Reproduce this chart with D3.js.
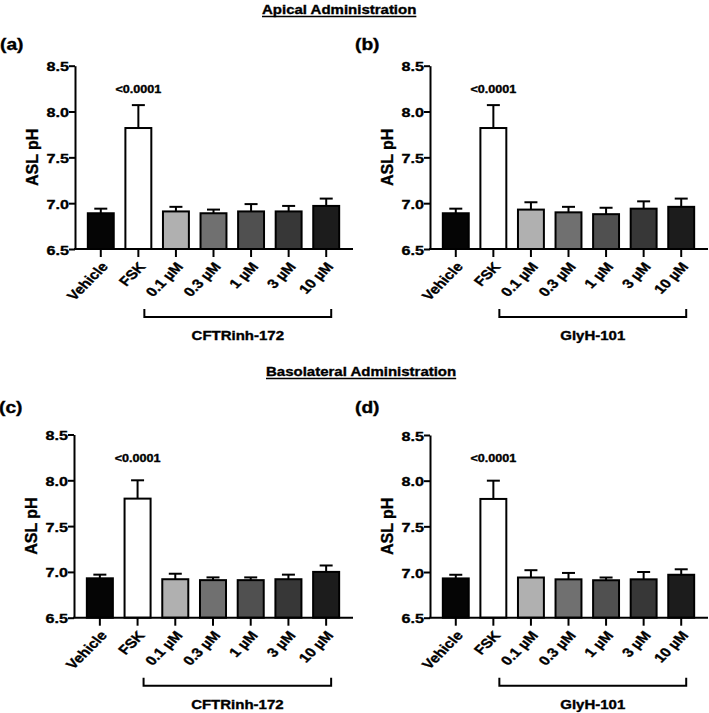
<!DOCTYPE html>
<html>
<head>
<meta charset="utf-8">
<script src="https://cdn.jsdelivr.net/npm/d3@7"></script>
<style>
  body { margin: 0; background: #fff; }
  svg { display: block; }
  text { font-family: "Liberation Sans", Arial, Helvetica, sans-serif; font-weight: bold; fill: #000; stroke: #000; stroke-width: 0.35px; }
</style>
</head>
<body>
<svg width="709" height="713"></svg>
<script>
// categories and tick values
const categories = ["Vehicle", "FSK", "0.1 µM", "0.3 µM", "1 µM", "3 µM", "10 µM"];
const yTicks = [6.5, 7.0, 7.5, 8.0, 8.5];

// ASL pH means and SEM
const meanA = [6.89, 7.82, 6.91, 6.89, 6.91, 6.91, 6.97];
const semA  = [0.05, 0.25, 0.05, 0.04, 0.08, 0.06, 0.08];
const meanB = [6.89, 7.82, 6.93, 6.90, 6.88, 6.94, 6.96];
const semB  = [0.05, 0.25, 0.08, 0.06, 0.07, 0.08, 0.09];
const meanC = [6.93, 7.80, 6.92, 6.91, 6.91, 6.92, 7.00];
const semC  = [0.04, 0.20, 0.06, 0.03, 0.03, 0.05, 0.07];
const meanD = [6.93, 7.80, 6.94, 6.92, 6.91, 6.92, 6.97];
const semD  = [0.04, 0.20, 0.08, 0.07, 0.03, 0.08, 0.06];

const pLabel = "<0.0001";
const inhibitors = ["CFTRinh-172", "GlyH-101"];
const sections = ["Apical Administration", "Basolateral Administration"];

const fills = ["#050505", "#ffffff", "#b0b0b0", "#707070", "#505050", "#373737", "#1c1c1c"];
const SX = 1.2; // the figure's text is horizontally stretched

const svg = d3.select("svg");

function stretchedText(g, x, y, str, size, anchor) {
    return g.append("text")
        .attr("transform", `translate(${x},${y}) scale(${SX},1)`)
        .attr("text-anchor", anchor || "middle")
        .style("font-size", size + "px")
        .text(str);
}

function drawPanel(cfg) {
    const g = svg.append("g");
    const y = d3.scaleLinear().domain([6.5, 8.5]).range([cfg.bottom, cfg.top]);
    const x = d3.scaleBand().domain(categories)
        .range([cfg.axisX + 7, cfg.endX - 8])
        .paddingInner(0.31).paddingOuter(0.155);
    const data = categories.map((c, i) => ({cat: c, mean: cfg.mean[i], sem: cfg.sem[i], fill: fills[i]}));

    // bars
    g.selectAll("rect.bar").data(data).enter().append("rect")
        .attr("class", "bar")
        .attr("x", d => x(d.cat))
        .attr("width", x.bandwidth())
        .attr("y", d => y(d.mean))
        .attr("height", d => y(6.5) - y(d.mean))
        .attr("fill", d => d.fill)
        .attr("stroke", "#000")
        .attr("stroke-width", 2);

    // error bars (upper only)
    const eb = g.selectAll("g.err").data(data).enter().append("g").attr("class", "err");
    eb.append("line")
        .attr("x1", d => x(d.cat) + x.bandwidth() / 2)
        .attr("x2", d => x(d.cat) + x.bandwidth() / 2)
        .attr("y1", d => y(d.mean))
        .attr("y2", d => y(d.mean + d.sem))
        .attr("stroke", "#000").attr("stroke-width", 2);
    eb.append("line")
        .attr("x1", d => x(d.cat) + x.bandwidth() / 2 - 6.5)
        .attr("x2", d => x(d.cat) + x.bandwidth() / 2 + 6.5)
        .attr("y1", d => y(d.mean + d.sem))
        .attr("y2", d => y(d.mean + d.sem))
        .attr("stroke", "#000").attr("stroke-width", 2);

    // y axis
    const yAxis = g.append("g")
        .attr("transform", `translate(${cfg.axisX},0)`)
        .call(d3.axisLeft(y).tickValues(yTicks).tickFormat(d3.format(".1f")).tickSize(6).tickSizeOuter(0));
    yAxis.select(".domain").attr("stroke-width", 2);
    yAxis.selectAll(".tick line").attr("stroke-width", 2);
    yAxis.selectAll(".tick text")
        .attr("x", null).attr("dy", null)
        .attr("transform", `translate(-6,5) scale(${SX},1)`)
        .style("font-size", "13.5px")
        .style("font-family", null);

    // x axis
    g.append("line")
        .attr("x1", cfg.axisX - 1).attr("x2", cfg.endX)
        .attr("y1", y(6.5)).attr("y2", y(6.5))
        .attr("stroke", "#000").attr("stroke-width", 2);
    const xAxis = g.append("g")
        .attr("transform", `translate(0,${y(6.5)})`)
        .call(d3.axisBottom(x).tickSize(8).tickSizeOuter(0));
    xAxis.select(".domain").remove();
    xAxis.selectAll(".tick line").attr("stroke-width", 2);
    xAxis.selectAll(".tick text")
        .attr("y", null).attr("dy", null)
        .attr("text-anchor", "end")
        .attr("transform", `translate(8,18) scale(${SX},1) rotate(-50)`)
        .style("font-size", "13px")
        .style("font-family", null);

    // y axis title
    g.append("text")
        .attr("transform", `translate(${cfg.axisX - 37},${(y(6.5) + y(8.5)) / 2}) rotate(-90)`)
        .attr("text-anchor", "middle")
        .style("font-size", "16px")
        .text("ASL pH");

    // significance label over FSK
    stretchedText(g, x("FSK") + x.bandwidth() / 2, y(8.5) + 27, pLabel, 10.5);

    // bracket under the inhibitor doses
    const bx1 = x("FSK") + x.bandwidth() / 2 + 6;
    const bx2 = x("10 µM") + x.bandwidth() / 2 + 5;
    const by = y(6.5) + 68;
    g.append("path")
        .attr("d", `M${bx1},${by - 8}V${by}H${bx2}V${by - 8}`)
        .attr("fill", "none").attr("stroke", "#000").attr("stroke-width", 2);
    stretchedText(g, (bx1 + bx2) / 2, by + 23, cfg.inhibitor, 12.5);

    // panel letter
    stretchedText(g, cfg.axisX - 75, cfg.letterY, cfg.letter, 16, "start");
}

const panels = [
    {letter: "(a)", mean: meanA, sem: semA, inhibitor: inhibitors[0], axisX: 75, endX: 353, top: 65.7, bottom: 249, letterY: 50},
    {letter: "(b)", mean: meanB, sem: semB, inhibitor: inhibitors[1], axisX: 430, endX: 708, top: 65.7, bottom: 249, letterY: 50},
    {letter: "(c)", mean: meanC, sem: semC, inhibitor: inhibitors[0], axisX: 74, endX: 353, top: 434.5, bottom: 617.7, letterY: 413},
    {letter: "(d)", mean: meanD, sem: semD, inhibitor: inhibitors[1], axisX: 430, endX: 708, top: 435, bottom: 617.7, letterY: 413}
];
panels.forEach(drawPanel);

// section titles, underlined
[{t: sections[0], x: 262, y: 14}, {t: sections[1], x: 266, y: 376}].forEach(s => {
    const t = stretchedText(svg, s.x, s.y, s.t, 12.5, "start");
    const w = t.node().getBBox().width * SX;
    svg.append("line")
        .attr("x1", s.x).attr("x2", s.x + w)
        .attr("y1", s.y + 2.5).attr("y2", s.y + 2.5)
        .attr("stroke", "#000").attr("stroke-width", 1.4);
});
</script>
</body>
</html>
